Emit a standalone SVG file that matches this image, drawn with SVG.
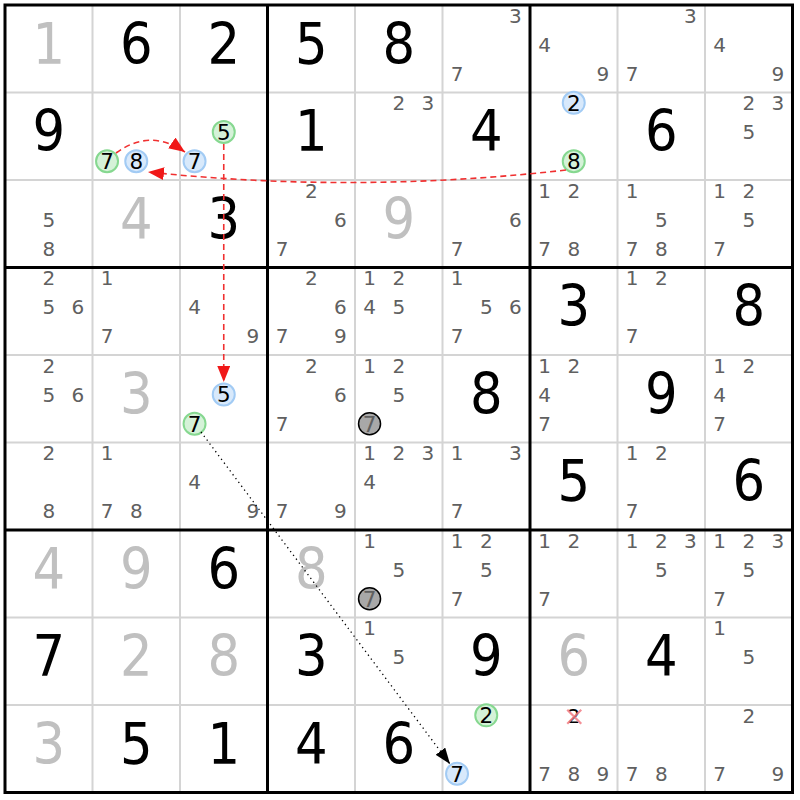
<svg xmlns="http://www.w3.org/2000/svg" width="800" height="800" viewBox="0 0 800 800">
<style>
text{font-family:"DejaVu Sans","Liberation Sans",sans-serif;text-anchor:middle}
.b{font-size:57px;fill:#000;font-family:"DejaVu Sans Condensed","DejaVu Sans",sans-serif}
.g{font-size:57px;fill:#c0c0c0;font-family:"DejaVu Sans Condensed","DejaVu Sans",sans-serif}
.c{font-size:20px;fill:#606060}
.k{font-size:21.5px;fill:#000}
.thin{stroke:#d4d4d4;stroke-width:2}
.thick{stroke:#000;stroke-width:3}
.gc{fill:#d5f2d8;stroke:#86d890;stroke-width:2}
.bc{fill:#d8e9fb;stroke:#a2cbf4;stroke-width:2}
.xc{fill:#a8a8a8;stroke:#000;stroke-width:1.5}
.red{fill:none;stroke:#f03030;stroke-width:1.6;stroke-dasharray:6,4}
.dot{fill:none;stroke:#000;stroke-width:1.3;stroke-dasharray:1.3,3.5}
</style>
<defs>
<marker id="ar" markerUnits="userSpaceOnUse" markerWidth="17" markerHeight="13" refX="16" refY="6.5" orient="auto"><path d="M0,0 L16,6.5 L0,13 z" fill="#f01818"/></marker>
<marker id="ak" markerUnits="userSpaceOnUse" markerWidth="17" markerHeight="12" refX="16" refY="6" orient="auto"><path d="M0,0 L16,6 L0,12 z" fill="#000"/></marker>
</defs>
<rect x="0" y="0" width="800" height="800" fill="#fff"/>
<g id="grid">
<path class="thin" d="M92.5,5V792.5M180,5V792.5M355,5V792.5M442.5,5V792.5M617.5,5V792.5M705,5V792.5M5,92.5H792.5M5,180H792.5M5,355H792.5M5,442.5H792.5M5,617.5H792.5M5,705H792.5"/>
<path class="thick" d="M267.5,5V792.5M530,5V792.5M5,267.5H792.5M5,530H792.5"/>
<rect class="thick" x="5" y="5" width="787.5" height="787.5" fill="none"/>
</g>
<!-- Row 0 -->
<g id="r0c0" transform="translate(48.75,48.75)"><text class="g" y="15">1</text></g>
<g id="r0c1" transform="translate(136.25,48.75)"><text class="b" y="15">6</text></g>
<g id="r0c2" transform="translate(223.75,48.75)"><text class="b" y="15">2</text></g>
<g id="r0c3" transform="translate(311.25,48.75)"><text class="b" y="15">5</text></g>
<g id="r0c4" transform="translate(398.75,48.75)"><text class="b" y="15">8</text></g>
<g id="r0c5" transform="translate(486.25,48.75)"><text class="c" x="29.2" y="-26.2">3</text><text class="c" x="-29.2" y="32.2">7</text></g>
<g id="r0c6" transform="translate(573.75,48.75)"><text class="c" x="-29.2" y="3">4</text><text class="c" x="29.2" y="32.2">9</text></g>
<g id="r0c7" transform="translate(661.25,48.75)"><text class="c" x="29.2" y="-26.2">3</text><text class="c" x="-29.2" y="32.2">7</text></g>
<g id="r0c8" transform="translate(748.75,48.75)"><text class="c" x="-29.2" y="3">4</text><text class="c" x="29.2" y="32.2">9</text></g>
<!-- Row 1 -->
<g id="r1c0" transform="translate(48.75,136.25)"><text class="b" y="15">9</text></g>
<g id="r1c1" transform="translate(136.25,136.25)"><circle class="gc" cx="-29.2" cy="25" r="11"/><text class="k" x="-29.2" y="32.8">7</text><circle class="bc" cx="0" cy="25" r="11"/><text class="k" x="0" y="32.8">8</text></g>
<g id="r1c2" transform="translate(223.75,136.25)"><circle class="gc" cx="0" cy="-4.2" r="11"/><text class="k" x="0" y="3.6">5</text><circle class="bc" cx="-29.2" cy="25" r="11"/><text class="k" x="-29.2" y="32.8">7</text></g>
<g id="r1c3" transform="translate(311.25,136.25)"><text class="b" y="15">1</text></g>
<g id="r1c4" transform="translate(398.75,136.25)"><text class="c" x="0" y="-26.2">2</text><text class="c" x="29.2" y="-26.2">3</text></g>
<g id="r1c5" transform="translate(486.25,136.25)"><text class="b" y="15">4</text></g>
<g id="r1c6" transform="translate(573.75,136.25)"><circle class="bc" cx="0" cy="-33.4" r="11"/><text class="k" x="0" y="-25.6">2</text><circle class="gc" cx="0" cy="25" r="11"/><text class="k" x="0" y="32.8">8</text></g>
<g id="r1c7" transform="translate(661.25,136.25)"><text class="b" y="15">6</text></g>
<g id="r1c8" transform="translate(748.75,136.25)"><text class="c" x="0" y="-26.2">2</text><text class="c" x="29.2" y="-26.2">3</text><text class="c" x="0" y="3">5</text></g>
<!-- Row 2 -->
<g id="r2c0" transform="translate(48.75,223.75)"><text class="c" x="0" y="3">5</text><text class="c" x="0" y="32.2">8</text></g>
<g id="r2c1" transform="translate(136.25,223.75)"><text class="g" y="15">4</text></g>
<g id="r2c2" transform="translate(223.75,223.75)"><text class="b" y="15">3</text></g>
<g id="r2c3" transform="translate(311.25,223.75)"><text class="c" x="0" y="-26.2">2</text><text class="c" x="29.2" y="3">6</text><text class="c" x="-29.2" y="32.2">7</text></g>
<g id="r2c4" transform="translate(398.75,223.75)"><text class="g" y="15">9</text></g>
<g id="r2c5" transform="translate(486.25,223.75)"><text class="c" x="29.2" y="3">6</text><text class="c" x="-29.2" y="32.2">7</text></g>
<g id="r2c6" transform="translate(573.75,223.75)"><text class="c" x="-29.2" y="-26.2">1</text><text class="c" x="0" y="-26.2">2</text><text class="c" x="-29.2" y="32.2">7</text><text class="c" x="0" y="32.2">8</text></g>
<g id="r2c7" transform="translate(661.25,223.75)"><text class="c" x="-29.2" y="-26.2">1</text><text class="c" x="0" y="3">5</text><text class="c" x="-29.2" y="32.2">7</text><text class="c" x="0" y="32.2">8</text></g>
<g id="r2c8" transform="translate(748.75,223.75)"><text class="c" x="-29.2" y="-26.2">1</text><text class="c" x="0" y="-26.2">2</text><text class="c" x="0" y="3">5</text><text class="c" x="-29.2" y="32.2">7</text></g>
<!-- Row 3 -->
<g id="r3c0" transform="translate(48.75,311.25)"><text class="c" x="0" y="-26.2">2</text><text class="c" x="0" y="3">5</text><text class="c" x="29.2" y="3">6</text></g>
<g id="r3c1" transform="translate(136.25,311.25)"><text class="c" x="-29.2" y="-26.2">1</text><text class="c" x="-29.2" y="32.2">7</text></g>
<g id="r3c2" transform="translate(223.75,311.25)"><text class="c" x="-29.2" y="3">4</text><text class="c" x="29.2" y="32.2">9</text></g>
<g id="r3c3" transform="translate(311.25,311.25)"><text class="c" x="0" y="-26.2">2</text><text class="c" x="29.2" y="3">6</text><text class="c" x="-29.2" y="32.2">7</text><text class="c" x="29.2" y="32.2">9</text></g>
<g id="r3c4" transform="translate(398.75,311.25)"><text class="c" x="-29.2" y="-26.2">1</text><text class="c" x="0" y="-26.2">2</text><text class="c" x="-29.2" y="3">4</text><text class="c" x="0" y="3">5</text></g>
<g id="r3c5" transform="translate(486.25,311.25)"><text class="c" x="-29.2" y="-26.2">1</text><text class="c" x="0" y="3">5</text><text class="c" x="29.2" y="3">6</text><text class="c" x="-29.2" y="32.2">7</text></g>
<g id="r3c6" transform="translate(573.75,311.25)"><text class="b" y="15">3</text></g>
<g id="r3c7" transform="translate(661.25,311.25)"><text class="c" x="-29.2" y="-26.2">1</text><text class="c" x="0" y="-26.2">2</text><text class="c" x="-29.2" y="32.2">7</text></g>
<g id="r3c8" transform="translate(748.75,311.25)"><text class="b" y="15">8</text></g>
<!-- Row 4 -->
<g id="r4c0" transform="translate(48.75,398.75)"><text class="c" x="0" y="-26.2">2</text><text class="c" x="0" y="3">5</text><text class="c" x="29.2" y="3">6</text></g>
<g id="r4c1" transform="translate(136.25,398.75)"><text class="g" y="15">3</text></g>
<g id="r4c2" transform="translate(223.75,398.75)"><circle class="bc" cx="0" cy="-4.2" r="11"/><text class="k" x="0" y="3.6">5</text><circle class="gc" cx="-29.2" cy="25" r="11"/><text class="k" x="-29.2" y="32.8">7</text></g>
<g id="r4c3" transform="translate(311.25,398.75)"><text class="c" x="0" y="-26.2">2</text><text class="c" x="29.2" y="3">6</text><text class="c" x="-29.2" y="32.2">7</text></g>
<g id="r4c4" transform="translate(398.75,398.75)"><text class="c" x="-29.2" y="-26.2">1</text><text class="c" x="0" y="-26.2">2</text><text class="c" x="0" y="3">5</text><circle class="xc" cx="-29.2" cy="25" r="11"/><text class="c" x="-29.2" y="32.8" style="font-size:21.5px">7</text></g>
<g id="r4c5" transform="translate(486.25,398.75)"><text class="b" y="15">8</text></g>
<g id="r4c6" transform="translate(573.75,398.75)"><text class="c" x="-29.2" y="-26.2">1</text><text class="c" x="0" y="-26.2">2</text><text class="c" x="-29.2" y="3">4</text><text class="c" x="-29.2" y="32.2">7</text></g>
<g id="r4c7" transform="translate(661.25,398.75)"><text class="b" y="15">9</text></g>
<g id="r4c8" transform="translate(748.75,398.75)"><text class="c" x="-29.2" y="-26.2">1</text><text class="c" x="0" y="-26.2">2</text><text class="c" x="-29.2" y="3">4</text><text class="c" x="-29.2" y="32.2">7</text></g>
<!-- Row 5 -->
<g id="r5c0" transform="translate(48.75,486.25)"><text class="c" x="0" y="-26.2">2</text><text class="c" x="0" y="32.2">8</text></g>
<g id="r5c1" transform="translate(136.25,486.25)"><text class="c" x="-29.2" y="-26.2">1</text><text class="c" x="-29.2" y="32.2">7</text><text class="c" x="0" y="32.2">8</text></g>
<g id="r5c2" transform="translate(223.75,486.25)"><text class="c" x="-29.2" y="3">4</text><text class="c" x="29.2" y="32.2">9</text></g>
<g id="r5c3" transform="translate(311.25,486.25)"><text class="c" x="-29.2" y="32.2">7</text><text class="c" x="29.2" y="32.2">9</text></g>
<g id="r5c4" transform="translate(398.75,486.25)"><text class="c" x="-29.2" y="-26.2">1</text><text class="c" x="0" y="-26.2">2</text><text class="c" x="29.2" y="-26.2">3</text><text class="c" x="-29.2" y="3">4</text></g>
<g id="r5c5" transform="translate(486.25,486.25)"><text class="c" x="-29.2" y="-26.2">1</text><text class="c" x="29.2" y="-26.2">3</text><text class="c" x="-29.2" y="32.2">7</text></g>
<g id="r5c6" transform="translate(573.75,486.25)"><text class="b" y="15">5</text></g>
<g id="r5c7" transform="translate(661.25,486.25)"><text class="c" x="-29.2" y="-26.2">1</text><text class="c" x="0" y="-26.2">2</text><text class="c" x="-29.2" y="32.2">7</text></g>
<g id="r5c8" transform="translate(748.75,486.25)"><text class="b" y="15">6</text></g>
<!-- Row 6 -->
<g id="r6c0" transform="translate(48.75,573.75)"><text class="g" y="15">4</text></g>
<g id="r6c1" transform="translate(136.25,573.75)"><text class="g" y="15">9</text></g>
<g id="r6c2" transform="translate(223.75,573.75)"><text class="b" y="15">6</text></g>
<g id="r6c3" transform="translate(311.25,573.75)"><text class="g" y="15">8</text></g>
<g id="r6c4" transform="translate(398.75,573.75)"><text class="c" x="-29.2" y="-26.2">1</text><text class="c" x="0" y="3">5</text><circle class="xc" cx="-29.2" cy="25" r="11"/><text class="c" x="-29.2" y="32.8" style="font-size:21.5px">7</text></g>
<g id="r6c5" transform="translate(486.25,573.75)"><text class="c" x="-29.2" y="-26.2">1</text><text class="c" x="0" y="-26.2">2</text><text class="c" x="0" y="3">5</text><text class="c" x="-29.2" y="32.2">7</text></g>
<g id="r6c6" transform="translate(573.75,573.75)"><text class="c" x="-29.2" y="-26.2">1</text><text class="c" x="0" y="-26.2">2</text><text class="c" x="-29.2" y="32.2">7</text></g>
<g id="r6c7" transform="translate(661.25,573.75)"><text class="c" x="-29.2" y="-26.2">1</text><text class="c" x="0" y="-26.2">2</text><text class="c" x="29.2" y="-26.2">3</text><text class="c" x="0" y="3">5</text></g>
<g id="r6c8" transform="translate(748.75,573.75)"><text class="c" x="-29.2" y="-26.2">1</text><text class="c" x="0" y="-26.2">2</text><text class="c" x="29.2" y="-26.2">3</text><text class="c" x="0" y="3">5</text><text class="c" x="-29.2" y="32.2">7</text></g>
<!-- Row 7 -->
<g id="r7c0" transform="translate(48.75,661.25)"><text class="b" y="15">7</text></g>
<g id="r7c1" transform="translate(136.25,661.25)"><text class="g" y="15">2</text></g>
<g id="r7c2" transform="translate(223.75,661.25)"><text class="g" y="15">8</text></g>
<g id="r7c3" transform="translate(311.25,661.25)"><text class="b" y="15">3</text></g>
<g id="r7c4" transform="translate(398.75,661.25)"><text class="c" x="-29.2" y="-26.2">1</text><text class="c" x="0" y="3">5</text></g>
<g id="r7c5" transform="translate(486.25,661.25)"><text class="b" y="15">9</text></g>
<g id="r7c6" transform="translate(573.75,661.25)"><text class="g" y="15">6</text></g>
<g id="r7c7" transform="translate(661.25,661.25)"><text class="b" y="15">4</text></g>
<g id="r7c8" transform="translate(748.75,661.25)"><text class="c" x="-29.2" y="-26.2">1</text><text class="c" x="0" y="3">5</text></g>
<!-- Row 8 -->
<g id="r8c0" transform="translate(48.75,748.75)"><text class="g" y="15">3</text></g>
<g id="r8c1" transform="translate(136.25,748.75)"><text class="b" y="15">5</text></g>
<g id="r8c2" transform="translate(223.75,748.75)"><text class="b" y="15">1</text></g>
<g id="r8c3" transform="translate(311.25,748.75)"><text class="b" y="15">4</text></g>
<g id="r8c4" transform="translate(398.75,748.75)"><text class="b" y="15">6</text></g>
<g id="r8c5" transform="translate(486.25,748.75)"><circle class="gc" cx="0" cy="-33.4" r="11"/><text class="k" x="0" y="-25.6">2</text><circle class="bc" cx="-29.2" cy="25" r="11"/><text class="k" x="-29.2" y="32.8">7</text></g>
<g id="r8c6" transform="translate(573.75,748.75)"><text class="k" x="0" y="-26.2" style="font-size:20px">2</text><path d="M-6.5,-39 L7.5,-25 M-6.5,-25 L7.5,-39" stroke="#f27c84" stroke-width="2.2" opacity="0.85"/><text class="c" x="-29.2" y="32.2">7</text><text class="c" x="0" y="32.2">8</text><text class="c" x="29.2" y="32.2">9</text></g>
<g id="r8c7" transform="translate(661.25,748.75)"><text class="c" x="-29.2" y="32.2">7</text><text class="c" x="0" y="32.2">8</text></g>
<g id="r8c8" transform="translate(748.75,748.75)"><text class="c" x="0" y="-26.2">2</text><text class="c" x="-29.2" y="32.2">7</text><text class="c" x="29.2" y="32.2">9</text></g>
<g id="connectors">
<path class="red" d="M116,153 Q150,128 185,152" marker-end="url(#ar)"/>
<path class="red" d="M566,170 Q356,194 148,172" marker-end="url(#ar)"/>
<path class="red" d="M223.75,144 L223.75,382" marker-end="url(#ar)"/>
<path class="dot" d="M201,432 L450,764" marker-end="url(#ak)"/>
</g>
</svg>
